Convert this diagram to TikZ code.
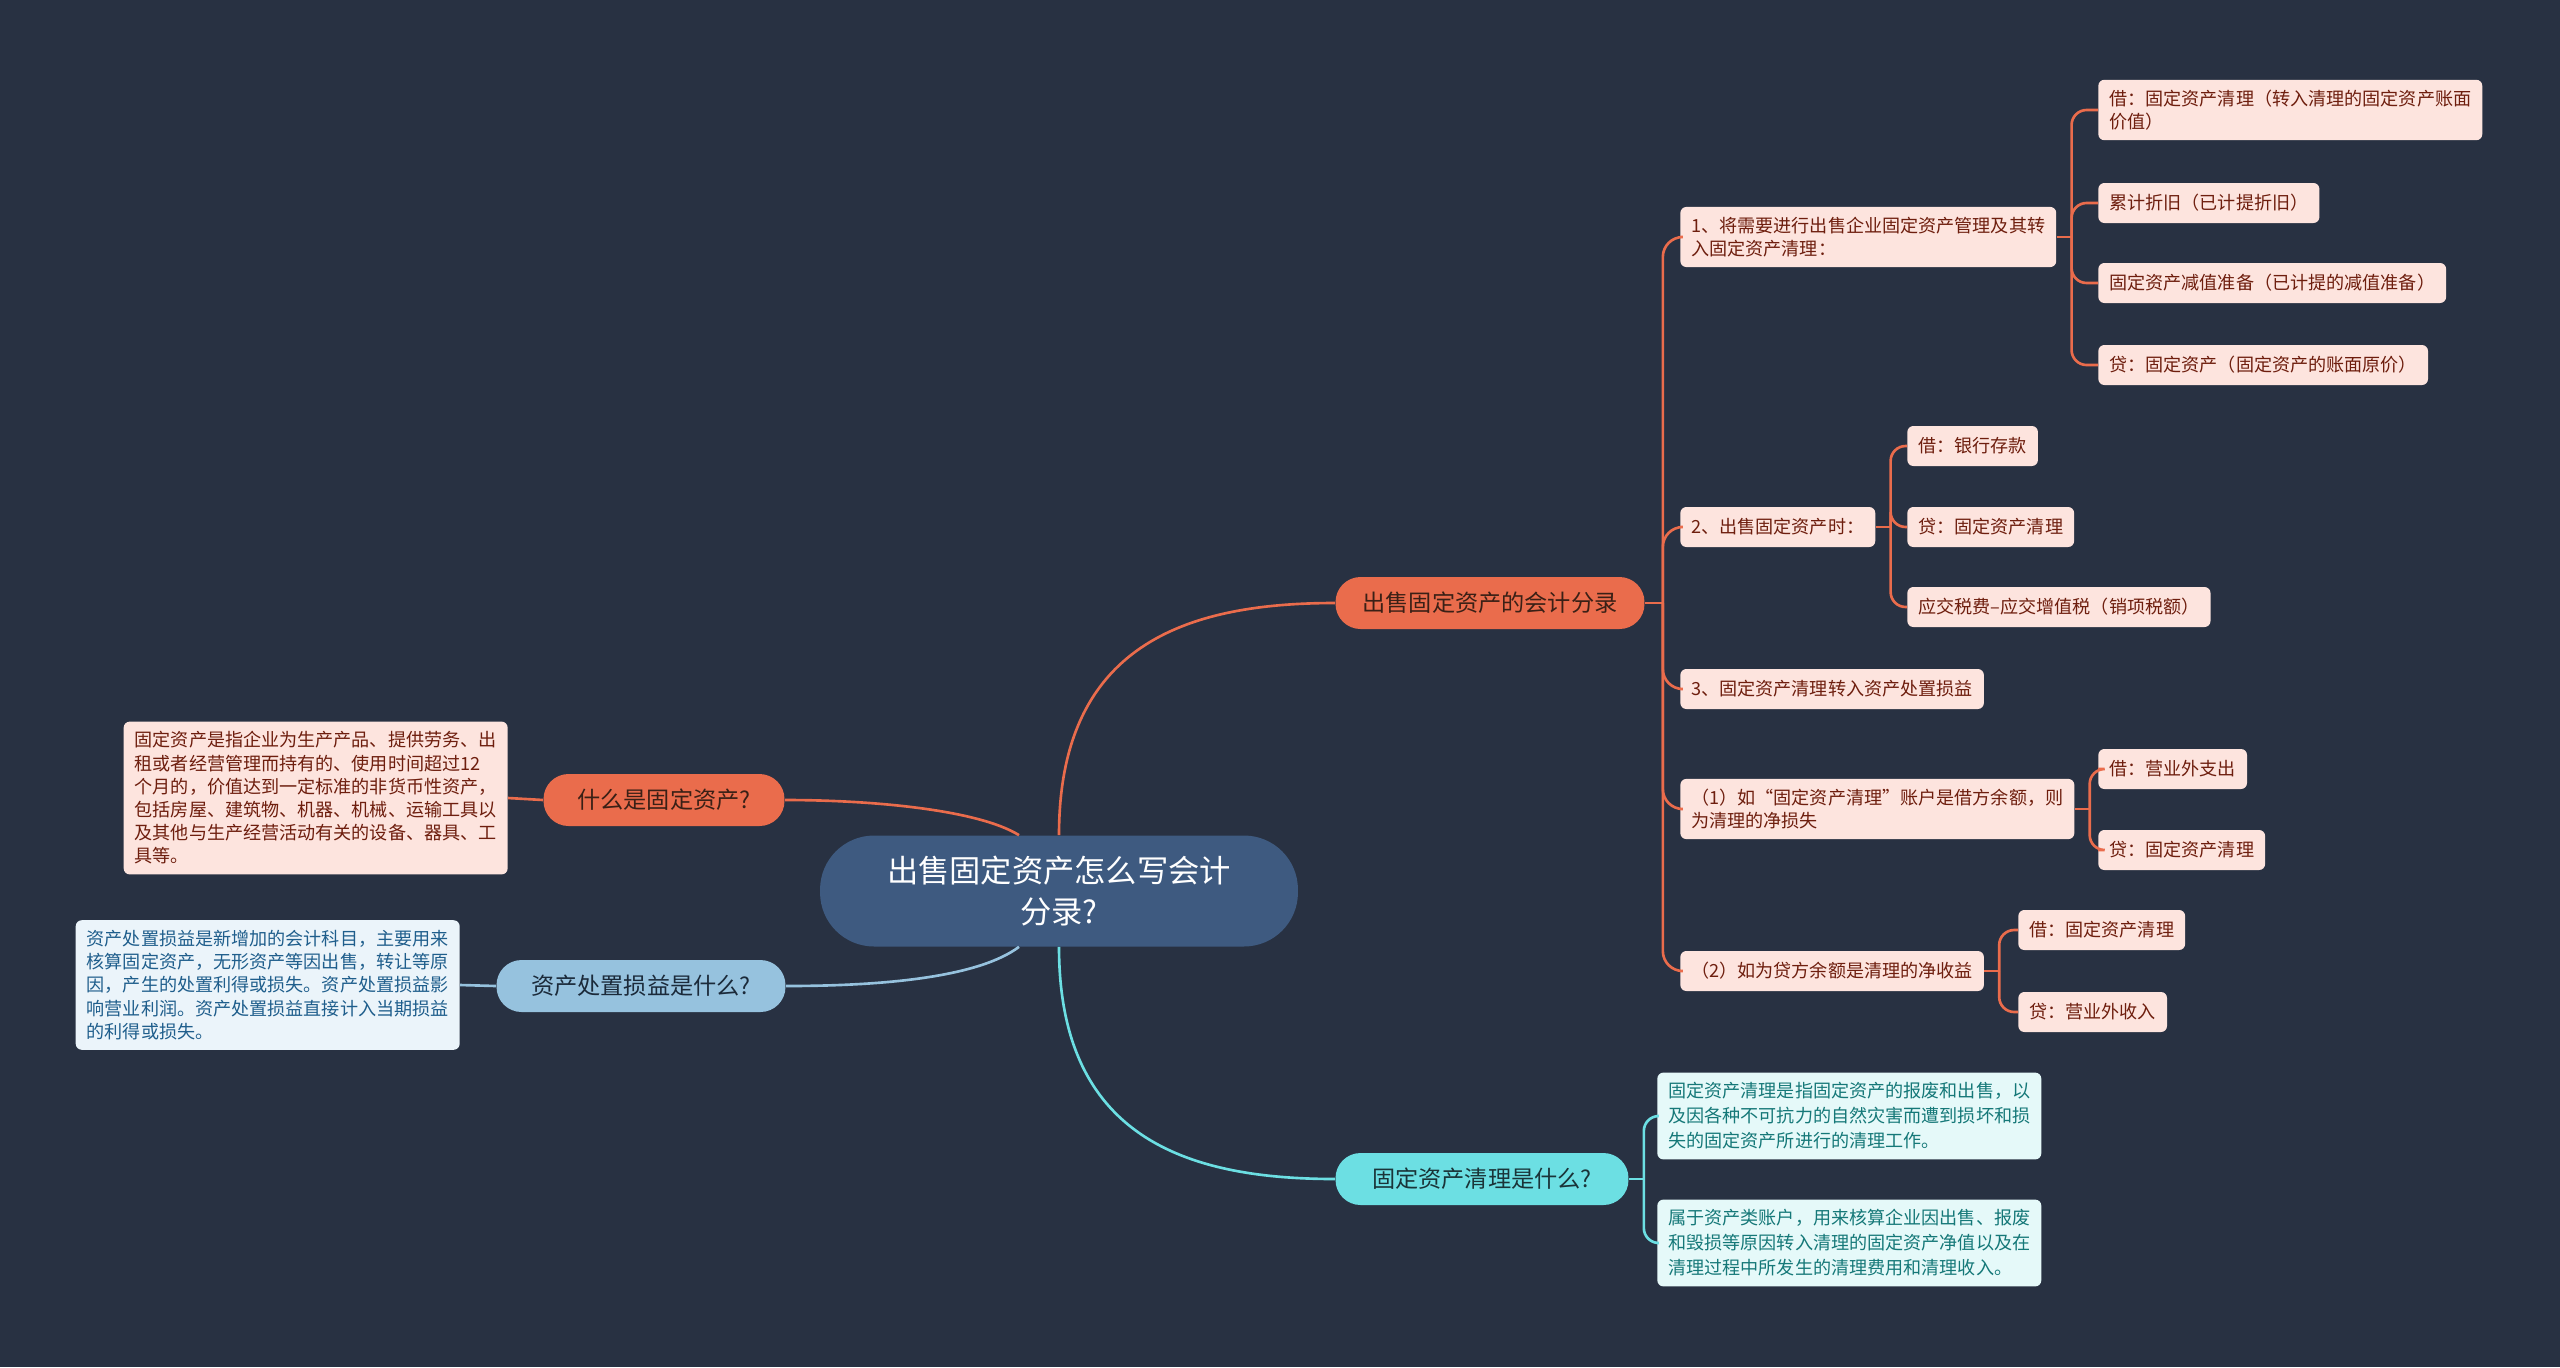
\documentclass[tikz,border=0pt]{standalone}
\usepackage{fontspec}
\setmainfont{Noto Sans CJK SC}
\usetikzlibrary{positioning}

\definecolor{bgnavy}{HTML}{283142}
\definecolor{rootblue}{HTML}{3E5A80}
\definecolor{salesred}{HTML}{EA6C4C}
\definecolor{salesleaf}{HTML}{FDE4DE}
\definecolor{salestext}{HTML}{6E1E0E}
\definecolor{salesdark}{HTML}{3A2016}
\definecolor{skyblue}{HTML}{96C2DE}
\definecolor{skyleaf}{HTML}{EBF4FA}
\definecolor{skytext}{HTML}{1F5E8C}
\definecolor{skydark}{HTML}{1B2A3A}
\definecolor{tealcyan}{HTML}{6CDFE3}
\definecolor{tealleaf}{HTML}{E5F9F9}
\definecolor{tealtext}{HTML}{157878}
\definecolor{tealdark}{HTML}{1A3438}

\begin{document}
\begin{tikzpicture}[
    x=0.02cm, y=-0.02cm,
    topic/.style={rectangle, rounded corners=1.08cm, minimum width=9.56cm, minimum height=2.22cm, align=center, fill=rootblue, text=white, font=\fontsize{17.8}{23.4}\selectfont},
    pill/.style={rectangle, rounded corners=0.5cm, minimum height=1.04cm, inner xsep=0.2cm, text centered, font=\fontsize{13.2}{16}\selectfont},
    saleskey/.style={pill, fill=salesred, text=salesdark},
    skykey/.style={pill, fill=skyblue, text=skydark},
    tealkey/.style={pill, fill=tealcyan, text=tealdark},
    card/.style={rectangle, rounded corners=0.12cm, minimum height=0.8cm, inner xsep=0.22cm, inner ysep=0.2cm, align=left, font=\fontsize{10.3}{13.2}\selectfont},
    salescard/.style={card, fill=salesleaf, text=salestext},
    skycard/.style={card, fill=skyleaf, text=skytext},
    tealcard/.style={card, fill=tealleaf, text=tealtext, font=\fontsize{10.3}{14.2}\selectfont},
    salesline/.style={salesred, line width=1.5pt},
    skyline/.style={skyblue, line width=1.5pt},
    tealline/.style={tealcyan, line width=1.5pt},
    elbow/.style={rounded corners=0.3cm}
]

% Background
\useasboundingbox (0,0) rectangle (2560,1367);
\fill[bgnavy] (0,0) rectangle (2560,1367);

% Nodes
\node (root) [topic] at (1059,891) {出售固定资产怎么写会计\\分录?};

\node (sales) [saleskey, minimum width=6.18cm] at (1490,603) {出售固定资产的会计分录};
\node (whatfa) [saleskey, minimum width=4.82cm] at (664,800) {什么是固定资产?};
\node (gainloss) [skykey, minimum width=5.78cm] at (641,986) {资产处置损益是什么?};
\node (clearing) [tealkey, minimum width=5.86cm] at (1482,1179) {固定资产清理是什么?};

\node (whatfatxt) [salescard, anchor=east] at (508,798) {固定资产是指企业为生产产品、提供劳务、出\\租或者经营管理而持有的、使用时间超过12\\个月的，价值达到一定标准的非货币性资产，\\包括房屋、建筑物、机器、机械、运输工具以\\及其他与生产经营活动有关的设备、器具、工\\具等。};
\node (gainlosstxt) [skycard, anchor=east] at (460,985) {资产处置损益是新增加的会计科目，主要用来\\核算固定资产，无形资产等因出售，转让等原\\因，产生的处置利得或损失。资产处置损益影\\响营业利润。资产处置损益直接计入当期损益\\的利得或损失。};

\node (step1) [salescard, anchor=west] at (1680,237) {1、将需要进行出售企业固定资产管理及其转\\入固定资产清理：};
\node (step2) [salescard, anchor=west] at (1680,527) {2、出售固定资产时：};
\node (step3) [salescard, anchor=west] at (1680,689) {3、固定资产清理转入资产处置损益};
\node (case1) [salescard, anchor=west] at (1680,809) {（1）如“固定资产清理”账户是借方余额，则\\为清理的净损失};
\node (case2) [salescard, anchor=west] at (1680,971) {（2）如为贷方余额是清理的净收益};

\node (s1a) [salescard, anchor=west] at (2098,110) {借：固定资产清理（转入清理的固定资产账面\\价值）};
\node (s1b) [salescard, anchor=west] at (2098,203) {累计折旧（已计提折旧）};
\node (s1c) [salescard, anchor=west] at (2098,283) {固定资产减值准备（已计提的减值准备）};
\node (s1d) [salescard, anchor=west] at (2098,365) {贷：固定资产（固定资产的账面原价）};

\node (s2a) [salescard, anchor=west] at (1907,446) {借：银行存款};
\node (s2b) [salescard, anchor=west] at (1907,527) {贷：固定资产清理};
\node (s2c) [salescard, anchor=west] at (1907,607) {应交税费–应交增值税（销项税额）};

\node (c1a) [salescard, anchor=west] at (2098,769) {借：营业外支出};
\node (c1b) [salescard, anchor=west] at (2098,850) {贷：固定资产清理};
\node (c2a) [salescard, anchor=west] at (2018,930) {借：固定资产清理};
\node (c2b) [salescard, anchor=west] at (2018,1012) {贷：营业外收入};

\node (cleartxt1) [tealcard, anchor=west] at (1657,1116) {固定资产清理是指固定资产的报废和出售，以\\及因各种不可抗力的自然灾害而遭到损坏和损\\失的固定资产所进行的清理工作。};
\node (cleartxt2) [tealcard, anchor=west] at (1657,1243) {属于资产类账户，用来核算企业因出售、报废\\和毁损等原因转入清理的固定资产净值以及在\\清理过程中所发生的清理费用和清理收入。};

% Junctions
\coordinate (salesj) at ([xshift=0.36cm]sales.east);
\coordinate (step1j) at ([xshift=0.3cm]step1.east);
\coordinate (step2j) at ([xshift=0.3cm]step2.east);
\coordinate (case1j) at ([xshift=0.3cm]case1.east);
\coordinate (case2j) at ([xshift=0.3cm]case2.east);
\coordinate (clearj) at ([xshift=0.3cm]clearing.east);

% Connections
\draw [salesline] (root.north) .. controls +(0,-190) and +(-150,0) .. (sales.west);
\draw [salesline] ([xshift=-0.8cm]root.north) .. controls +(-40,-25) and +(90,0) .. (whatfa.east);
\draw [skyline] ([xshift=-0.8cm]root.south) .. controls +(-40,30) and +(100,0) .. (gainloss.east);
\draw [tealline] (root.south) .. controls +(0,190) and +(-150,0) .. (clearing.west);

\draw [salesline] (whatfa.west) -- (whatfatxt.east);
\draw [skyline] (gainloss.west) -- (gainlosstxt.east);

\draw [salesline] (sales.east) -- (salesj);
\foreach \kid in {step1,step2,step3,case1,case2}
    \draw [salesline, rounded corners=0.4cm] (salesj) |- (\kid.west);
\draw [salesline] (step1.east) -- (step1j);
\foreach \kid in {s1a,s1b,s1c,s1d}
    \draw [salesline, elbow] (step1j) |- (\kid.west);
\draw [salesline] (step2.east) -- (step2j);
\foreach \kid in {s2a,s2b,s2c}
    \draw [salesline, elbow] (step2j) |- (\kid.west);
\draw [salesline] (case1.east) -- (case1j);
\foreach \kid in {c1a,c1b}
    \draw [salesline, elbow] (case1j) |- (\kid.west);
\draw [salesline] (case2.east) -- (case2j);
\foreach \kid in {c2a,c2b}
    \draw [salesline, elbow] (case2j) |- (\kid.west);
\draw [tealline] (clearing.east) -- (clearj);
\foreach \kid in {cleartxt1,cleartxt2}
    \draw [tealline, elbow] (clearj) |- (\kid.west);

\end{tikzpicture}
\end{document}
